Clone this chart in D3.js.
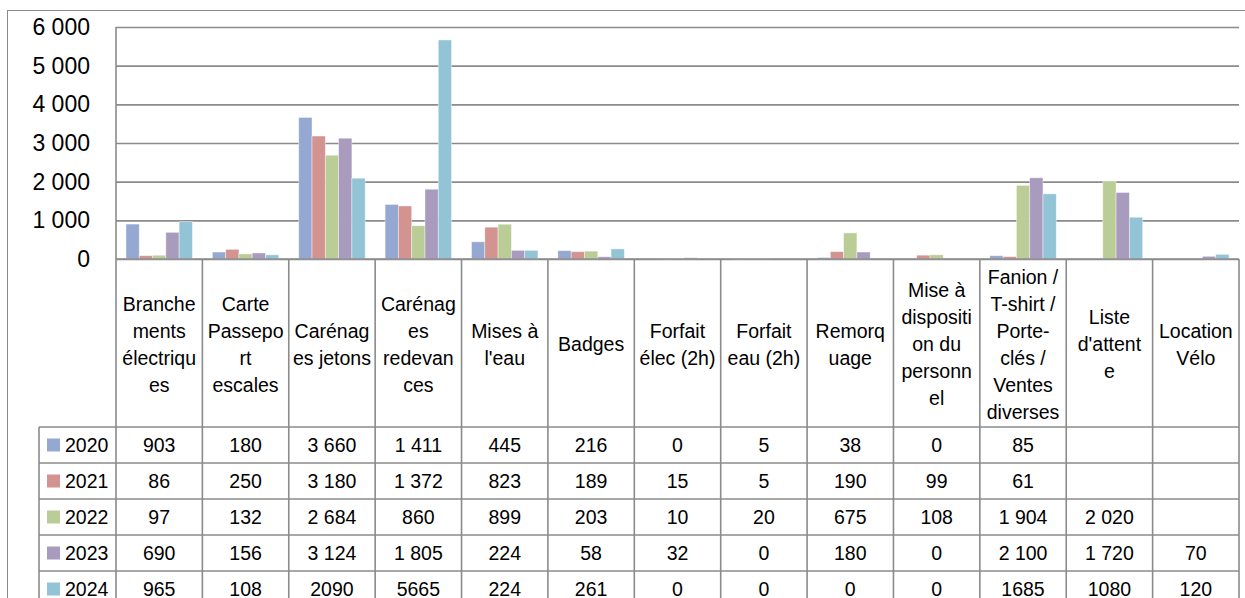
<!DOCTYPE html>
<html>
<head>
<meta charset="utf-8">
<script src="https://cdn.jsdelivr.net/npm/d3@7/dist/d3.min.js"></script>
<style>
  body { margin: 0; background: #fff; }
  svg { display: block; font-family: "Liberation Sans", Arial, sans-serif; }
</style>
</head>
<body>
<script>
// catégories (coupures de lignes comme dans le tableau)
var categories = [
    ["Branche", "ments", "électriqu", "es"],
    ["Carte", "Passepo", "rt", "escales"],
    ["Carénag", "es jetons"],
    ["Carénag", "es", "redevan", "ces"],
    ["Mises à", "l'eau"],
    ["Badges"],
    ["Forfait", "élec (2h)"],
    ["Forfait", "eau (2h)"],
    ["Remorq", "uage"],
    ["Mise à", "dispositi", "on du", "personn", "el"],
    ["Fanion /", "T-shirt /", "Porte-", "clés /", "Ventes", "diverses"],
    ["Liste", "d'attent", "e"],
    ["Location", "Vélo"]
];
var years = ["2020", "2021", "2022", "2023", "2024"];
var v2020 = [903, 180, 3660, 1411, 445, 216, 0, 5, 38, 0, 85, null, null];
var v2021 = [86, 250, 3180, 1372, 823, 189, 15, 5, 190, 99, 61, null, null];
var v2022 = [97, 132, 2684, 860, 899, 203, 10, 20, 675, 108, 1904, 2020, null];
var v2023 = [690, 156, 3124, 1805, 224, 58, 32, 0, 180, 0, 2100, 1720, 70];
var v2024 = [965, 108, 2090, 5665, 224, 261, 0, 0, 0, 0, 1685, 1080, 120];
var yTicks = [0, 1000, 2000, 3000, 4000, 5000, 6000];
var plainYears = ["2024"]; // cette ligne du tableau est écrite sans séparateur

var series = [v2020, v2021, v2022, v2023, v2024];
var colors = ["#95a8d2", "#d39391", "#bacd96", "#a99bbe", "#93c4d5"];

var w = 1245, h = 598;
var plotLeft = 116, plotRight = 1239, plotTop = 27, base = 259;
var headerBottom = 427, rowH = 36, labelLeft = 39;
var lineColor = "#8b8b8b";

var fr = d3.formatLocale({ decimal: ",", thousands: " ", grouping: [3], currency: ["", " €"] });
var fmt = fr.format(",d");

var svg = d3.select("body").append("svg").attr("width", w).attr("height", h);

// cadre extérieur
svg.append("rect")
    .attr("x", 7.5).attr("y", 10.5).attr("width", 1300).attr("height", 700)
    .attr("fill", "none").attr("stroke", lineColor).attr("stroke-width", 1);

var x = d3.scaleBand().domain(d3.range(categories.length)).range([plotLeft, plotRight]);
var y = d3.scaleLinear().domain([0, 6000]).range([base, plotTop]);

var cw = x.bandwidth();
var barW = cw / 6.5;
var xs = d3.scaleBand().domain(years).range([barW * 0.75, cw - barW * 0.75]);

// axe + quadrillage
var yAxis = d3.axisLeft(y)
    .tickValues(yTicks)
    .tickSize(-(plotRight - plotLeft))
    .tickPadding(26)
    .tickFormat(fmt);

var gy = svg.append("g").attr("transform", "translate(" + plotLeft + ",0)").call(yAxis);
gy.select(".domain").remove();
gy.selectAll(".tick line").attr("stroke", lineColor).attr("stroke-width", 1.6);
gy.selectAll(".tick text")
    .attr("font-size", "23px")
    .attr("font-family", "Liberation Sans, Arial, sans-serif")
    .attr("fill", "#000");

// barres
series.forEach(function (vals, s) {
    svg.append("g").selectAll("rect")
        .data(vals.map(function (v, i) { return { i: i, v: v }; }).filter(function (d) { return d.v; }))
        .enter()
        .append("rect")
        .attr("x", function (d) { return x(d.i) + xs(years[s]); })
        .attr("y", function (d) { return y(d.v); })
        .attr("width", xs.bandwidth())
        .attr("height", function (d) { return base - y(d.v); })
        .attr("fill", colors[s])
        .attr("stroke", "#ffffff")
        .attr("stroke-opacity", 0.5)
        .attr("stroke-width", 0.8);
});

// tableau de données
var g = svg.append("g").attr("stroke", lineColor).attr("stroke-width", 1.6);
// verticales
g.append("line").attr("x1", plotLeft).attr("x2", plotLeft).attr("y1", plotTop).attr("y2", h);
d3.range(1, categories.length + 1).forEach(function (i) {
    var xx = i < categories.length ? x(i) : plotRight;
    g.append("line").attr("x1", xx).attr("x2", xx).attr("y1", base).attr("y2", h);
});
g.append("line").attr("x1", labelLeft).attr("x2", labelLeft).attr("y1", headerBottom).attr("y2", h);
// horizontales
g.append("line").attr("x1", plotLeft).attr("x2", plotRight).attr("y1", base).attr("y2", base);
d3.range(years.length + 1).forEach(function (r) {
    var yy = headerBottom + r * rowH;
    g.append("line").attr("x1", labelLeft).attr("x2", plotRight).attr("y1", yy).attr("y2", yy);
});

// en-têtes
var headerMid = (base + headerBottom) / 2 + 1;
var lh = 27;
categories.forEach(function (lines, i) {
    var t = svg.append("text")
        .attr("text-anchor", "middle")
        .attr("font-size", "19.5px")
        .attr("fill", "#000");
    lines.forEach(function (l, k) {
        t.append("tspan")
            .attr("x", x(i) + cw / 2)
            .attr("y", headerMid + (k - (lines.length - 1) / 2) * lh)
            .attr("dy", "0.36em")
            .text(l);
    });
});

// lignes par année
years.forEach(function (yr, r) {
    var cy = headerBottom + r * rowH + rowH / 2;
    svg.append("rect")
        .attr("x", 47).attr("y", cy - 6.5).attr("width", 13).attr("height", 13)
        .attr("fill", colors[r]);
    svg.append("text")
        .attr("x", 65).attr("y", cy).attr("dy", "0.36em")
        .attr("font-size", "19.5px").attr("fill", "#000")
        .text(yr);
    svg.append("g").selectAll("text")
        .data(series[r])
        .enter()
        .append("text")
        .attr("x", function (d, i) { return x(i) + cw / 2; })
        .attr("y", cy)
        .attr("dy", "0.36em")
        .attr("text-anchor", "middle")
        .attr("font-size", "19.5px")
        .attr("fill", "#000")
        .text(function (d) {
            if (d === null) return "";
            return plainYears.indexOf(yr) >= 0 ? String(d) : fmt(d);
        });
});
</script>
</body>
</html>
